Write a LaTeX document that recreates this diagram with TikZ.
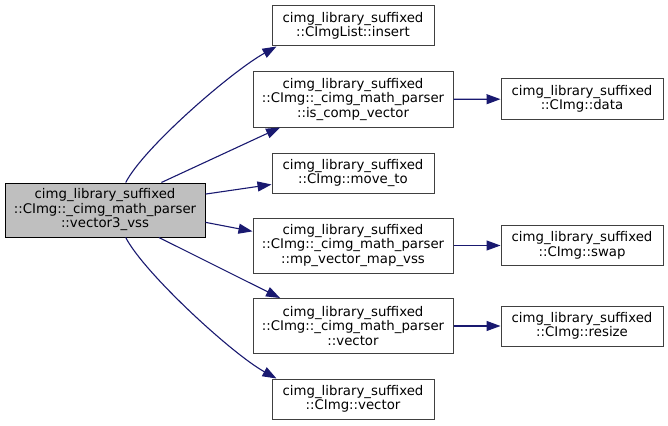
\documentclass[tikz,border=0pt]{standalone}
\usepackage{fontspec}
\setmainfont{DejaVu Sans}
\usetikzlibrary{arrows.meta}
\definecolor{edgeblue}{HTML}{191970}
\definecolor{rootgray}{HTML}{BFBFBF}
\tikzset{
  fn/.style={draw=black!75,fill=white,align=center,inner sep=0pt,line width=1pt,
    minimum height=40pt,font=\fontsize{13.3}{14.5}\selectfont},
  wide/.style={fn,minimum width=200pt,minimum height=55pt},
  narrow/.style={fn,minimum width=162pt},
  call/.style={draw=edgeblue,line width=1.1pt,-{Triangle[length=14pt,width=10pt]},edgeblue}
}
\begin{document}
\begin{tikzpicture}[x=1pt,y=-1pt]
  \useasboundingbox (0,0) rectangle (668,425);
  \node[wide,fill=rootgray,draw=black,minimum height=54pt] (root) at (105,210)
    {cimg\_library\_suffixed\\::CImg::\_cimg\_math\_parser\\::vector3\_vss};
  % called functions
  \node[narrow] (insert) at (353,26) {cimg\_library\_suffixed\\::CImgList::insert};
  \node[wide] (iscomp) at (353,99.5) {cimg\_library\_suffixed\\::CImg::\_cimg\_math\_parser\\::is\_comp\_vector};
  \node[narrow] (moveto) at (353,173) {cimg\_library\_suffixed\\::CImg::move\_to};
  \node[wide] (mpvec) at (353,245.5) {cimg\_library\_suffixed\\::CImg::\_cimg\_math\_parser\\::mp\_vector\_map\_vss};
  \node[wide] (vecmp) at (353,326) {cimg\_library\_suffixed\\::CImg::\_cimg\_math\_parser\\::vector};
  \node[narrow] (cvec) at (353,399) {cimg\_library\_suffixed\\::CImg::vector};
  \foreach \n/\y in {data/99, swap/245.5, resize/326}{
    \node[narrow] (\n) at (582,\y) {cimg\_library\_suffixed\\::CImg::\n};
  }
  % edges
  \draw[call] (root.53) .. controls +(18,-35) and +(-45,25) .. (insert.195);
  \draw[call] (root.26) -- (iscomp.201);
  \draw[call] (root.9) -- (moveto.188);
  \draw[call] (root.-7) -- (mpvec.172);
  \draw[call] (root.-27) -- (vecmp.159);
  \draw[call] (root.-53) .. controls +(18,35) and +(-45,-25) .. (cvec.165);
  \foreach \a/\b in {iscomp/data, mpvec/swap, vecmp/resize}{
    \draw[call] (\a) -- (\b);
  }
\end{tikzpicture}
\end{document}
